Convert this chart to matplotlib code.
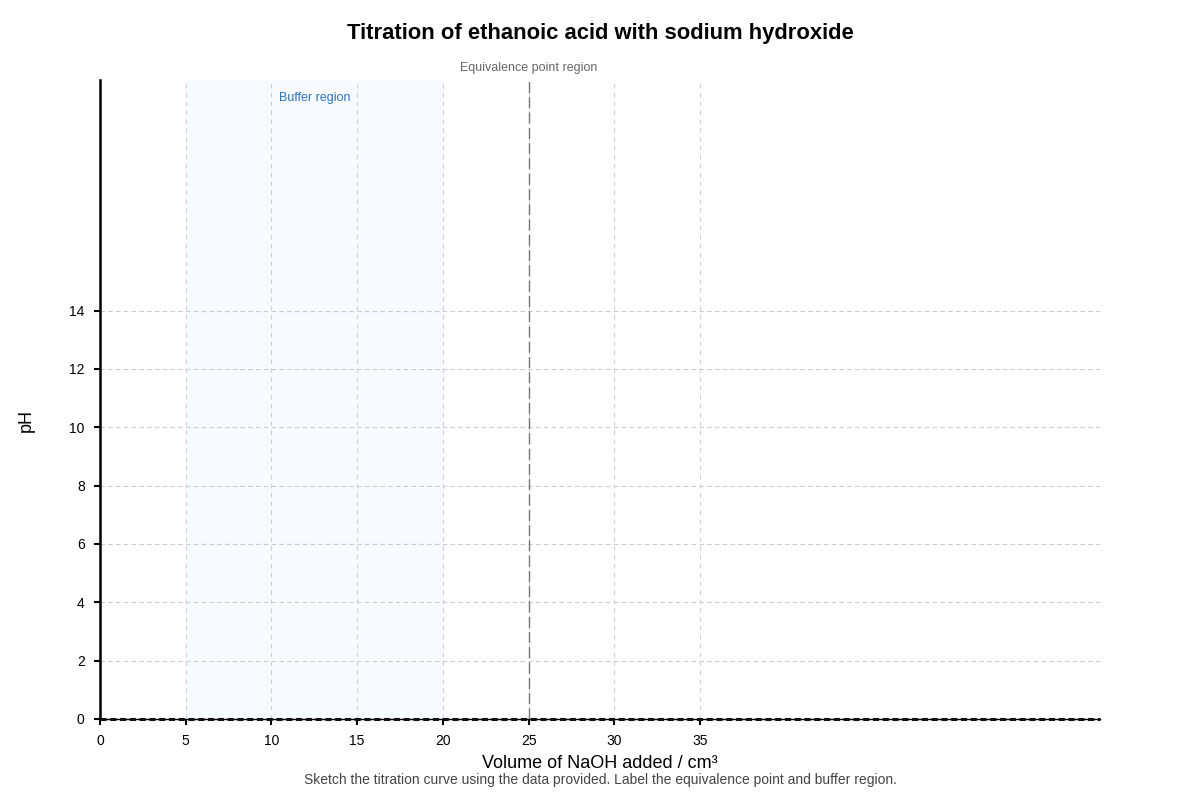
import matplotlib
matplotlib.use('Agg')
import matplotlib.pyplot as plt

plt.rcParams['font.family'] = ['Liberation Sans', 'DejaVu Sans']

# chart data
x_ticks = [0, 5, 10, 15, 20, 25, 30, 35]
y_ticks = [0, 2, 4, 6, 8, 10, 12, 14]
curve_volume = [0, 58.33]
curve_ph = [0, 0]
buffer_start, buffer_end = 5, 20
equivalence_volume = 25

fig = plt.figure(figsize=(12, 8), dpi=100)
ax = fig.add_axes([100 / 1200, 81 / 800, 1000 / 1200, 639 / 800])
ax.set_xlim(0, 58.33)
ax.set_ylim(0, 21.9)

# buffer region shading
ax.axvspan(buffer_start, buffer_end, color='#f7faff', zorder=0)

# grid
for x in x_ticks[1:]:
    ax.axvline(x, color='#d0d0d0', lw=0.8, ls=(0, (4, 4)), zorder=1)
for y in y_ticks[1:]:
    ax.axhline(y, color='#cccccc', lw=0.8, ls=(0, (4, 3)), zorder=1)

# equivalence line
ax.axvline(equivalence_volume, color='#777777', lw=1.0, ls=(0, (8, 3)), zorder=2)

# curve
ax.plot(curve_volume, curve_ph, color='#111111', lw=2.2, ls=(0, (2, 1.2)), zorder=4,
        clip_on=False)

ax.set_xticks(x_ticks)
ax.set_yticks(y_ticks)
ax.tick_params(labelsize=10, length=4, width=1.5, color='black', pad=7)
for s in ['top', 'right']:
    ax.spines[s].set_visible(False)
ax.spines['left'].set_linewidth(1.8)
ax.spines['bottom'].set_linewidth(1.0)

ax.text((buffer_start + buffer_end) / 2, 21.28, 'Buffer region', color='#2c74b8',
        fontsize=9, ha='center', va='center')
ax.text(equivalence_volume, 22.32, 'Equivalence point region', color='#666666',
        fontsize=9, ha='center', va='center', clip_on=False)

fig.text(0.5, 0.958, 'Titration of ethanoic acid with sodium hydroxide',
         fontsize=15.8, fontweight='bold', ha='center', va='center')
fig.text(0.5, (800 - 764) / 800, 'Volume of NaOH added / cm³', fontsize=13,
         ha='center', va='center')
fig.text(0.5, (800 - 780) / 800,
         'Sketch the titration curve using the data provided. Label the equivalence point and buffer region.',
         fontsize=10, color='#444444', ha='center', va='center')
fig.text(26 / 1200, (800 - 420) / 800, 'pH', fontsize=13, rotation=90,
         ha='center', va='center')

fig.savefig('out.png', dpi=100)
